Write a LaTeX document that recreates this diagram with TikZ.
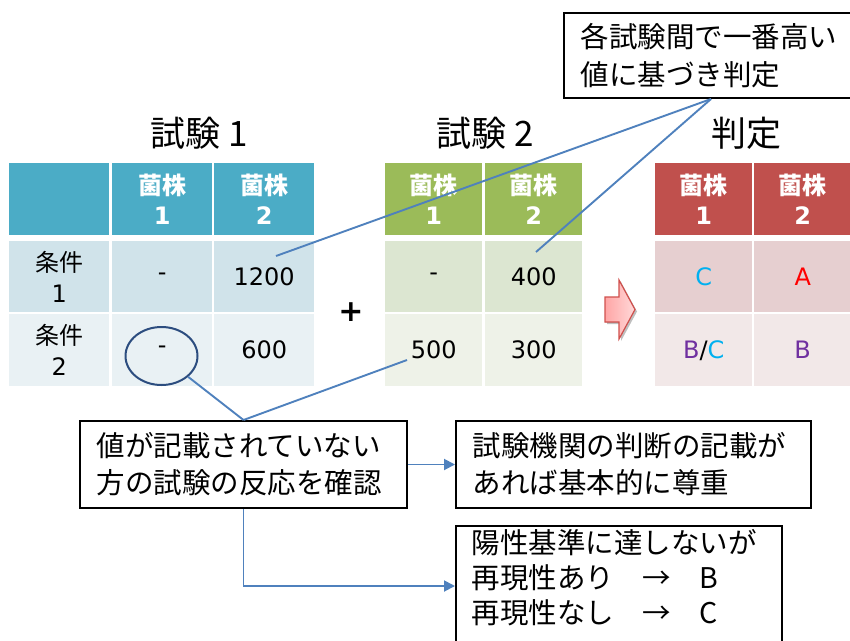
\documentclass[tikz,border=0pt]{standalone}
\usepackage{fontspec}
\setmainfont{DejaVu Sans}
\newfontfamily\jp{Noto Sans CJK JP}
\usetikzlibrary{shapes.geometric,arrows.meta}

\definecolor{hblue}{HTML}{4BACC6}
\definecolor{r1blue}{HTML}{D0E3EA}
\definecolor{r2blue}{HTML}{E9F1F4}
\definecolor{hgreen}{HTML}{9BBB59}
\definecolor{r1green}{HTML}{DCE6D1}
\definecolor{r2green}{HTML}{EEF2E8}
\definecolor{hred}{HTML}{C0504D}
\definecolor{r1red}{HTML}{E6CFD0}
\definecolor{r2red}{HTML}{F2E8E8}
\definecolor{lineblue}{HTML}{4F81BD}
\definecolor{navy}{HTML}{2C4D7F}
\definecolor{cC}{HTML}{00B0F0}
\definecolor{cA}{HTML}{FF0000}
\definecolor{cB}{HTML}{7030A0}
\definecolor{arrowred}{HTML}{D0504D}

\begin{document}
\begin{tikzpicture}[x=1pt,y=-1pt,
  cell/.style={anchor=north west, inner sep=0pt, align=center, minimum height=71pt,
    font=\fontsize{24}{31}\selectfont},
  hcell/.style={cell, minimum height=72pt, text=white, font=\fontsize{24}{30}\selectfont\bfseries},
  wA/.style={minimum width=100pt},
  wB/.style={minimum width=97pt},
  title/.style={font=\jp\fontsize{35}{40}\selectfont},
  box/.style={draw, line width=2pt, fill=white, anchor=north west, align=left,
    inner xsep=16.5pt, font=\jp\fontsize{28.5}{37}\selectfont},
  conn/.style={draw=lineblue, line width=1.9pt},
  arr/.style={conn, -{Triangle[length=11pt,width=11pt]}},
]
\useasboundingbox (0,0) rectangle (850,640);
\clip (0,0) rectangle (850,640);

% ---------- titles ----------
\node[title] (title1) at (199,133) {試験 1};
\node[title] (title2) at (485,133) {試験 2};
\node[title] (title3) at (746,133) {判定};

% ---------- table 1 ----------
\node[hcell, wA, fill=hblue] (t1h0) at (9,163) {};
\node[hcell, wA, fill=hblue] (t1h1) at (112,163) {{\jp 菌株}\\1};
\node[hcell, wA, fill=hblue] (t1h2) at (214,163) {{\jp 菌株}\\2};
\node[cell, wA, fill=r1blue] (t1a0) at (9,241) {{\jp 条件}\\1};
\node[cell, wA, fill=r1blue] (t1a1) at (112,241) {-};
\node[cell, wA, fill=r1blue] (t1a2) at (214,241) {1200};
\node[cell, wA, fill=r2blue, minimum height=72pt] (t1b0) at (9,314) {{\jp 条件}\\2};
\node[cell, wA, fill=r2blue, minimum height=72pt] (t1b1) at (112,314) {-};
\node[cell, wA, fill=r2blue, minimum height=72pt] (t1b2) at (214,314) {600};

% ---------- plus ----------
\node[font=\fontsize{30}{30}\selectfont\bfseries] (plus) at (351,312) {+};

% ---------- table 2 ----------
\node[hcell, wB, fill=hgreen] (t2h1) at (385,163) {{\jp 菌株}\\1};
\node[hcell, wB, fill=hgreen] (t2h2) at (485,163) {{\jp 菌株}\\2};
\node[cell, wB, fill=r1green] (t2a1) at (385,241) {-};
\node[cell, wB, fill=r1green] (t2a2) at (485,241) {400};
\node[cell, wB, fill=r2green, minimum height=72pt] (t2b1) at (385,314) {500};
\node[cell, wB, fill=r2green, minimum height=72pt] (t2b2) at (485,314) {300};

% ---------- block arrow ----------
\fill[black!25] (607,299) -- (621,299) -- (621,282) -- (637,311.5) -- (621,341) -- (621,324) -- (607,324) -- cycle;
\filldraw[draw=arrowred, line width=1.2pt, left color=red!35, right color=red!15]
  (605,297) -- (619,297) -- (619,280) -- (635,309.5) -- (619,339) -- (619,322) -- (605,322) -- cycle;

% ---------- table 3 ----------
\node[hcell, wB, fill=hred] (t3h1) at (655,163) {{\jp 菌株}\\1};
\node[hcell, wB, fill=hred] (t3h2) at (754,163) {{\jp 菌株}\\2};
\node[cell, wB, fill=r1red] (t3a1) at (655,241) {\color{cC}C};
\node[cell, wB, fill=r1red] (t3a2) at (754,241) {\color{cA}A};
\node[cell, wB, fill=r2red, minimum height=72pt] (t3b1) at (655,314) {{\color{cB}B}/{\color{cC}C}};
\node[cell, wB, fill=r2red, minimum height=72pt] (t3b2) at (754,314) {\color{cB}B};

% ---------- ellipse ----------
\node[ellipse, draw=navy, line width=2pt, minimum width=72pt, minimum height=58pt, inner sep=0pt]
  (ell) at (161.5,356) {};

% ---------- boxes ----------
\node[box, text width=267pt, minimum height=85pt, font=\jp\fontsize{28.5}{38}\selectfont]
  (note) at (563,12) {各試験間で一番高い\\値に基づき判定};
\node[box, text width=294pt, minimum height=87pt] (box1) at (79,420)
  {値が記載されていない\\方の試験の反応を確認};
\node[box, text width=322pt, minimum height=87pt] (box2) at (455,420)
  {試験機関の判断の記載が\\あれば基本的に尊重};
\node[box, text width=293pt, minimum height=120pt] (box3) at (455,525) {};
\node[anchor=north west, align=left, inner xsep=16.5pt, text width=293pt,
  font=\jp\fontsize{28.5}{35}\selectfont]
  (box3txt) at (455,526) {陽性基準に達しないが\\再現性あり　→　B\\再現性なし　→　C};

% ---------- connectors ----------
\coordinate (p1) at (276,256);
\coordinate (p2) at (536,252);
\coordinate (p3) at (407,360);
\draw[conn] ([xshift=-3pt]note.south) -- (p1);
\draw[conn] ([xshift=-3pt]note.south) -- (p2);
\draw[conn] (ell.-38) -- (box1.north);
\draw[conn] (p3) -- (box1.north);
\draw[arr] (box1.east) -- (box2.west);
\draw[arr] (box1.south) |- (box3.west);
\end{tikzpicture}
\end{document}
